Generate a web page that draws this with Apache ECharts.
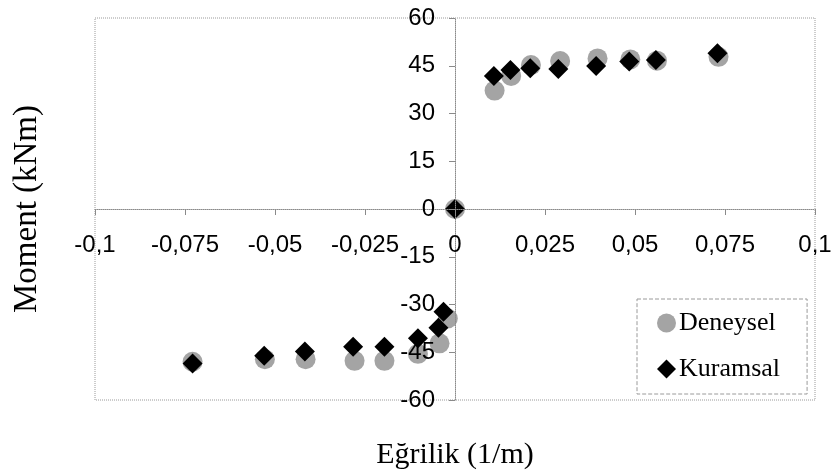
<!DOCTYPE html>
<html>
<head>
<meta charset="utf-8">
<script src="https://cdn.jsdelivr.net/npm/echarts@6/dist/echarts.min.js"></script>
<style>
  html, body { margin: 0; padding: 0; background: #fff; }
  #chart { width: 836px; height: 473px; }
</style>
</head>
<body>
<div id="chart"></div>
<script>
// Moment–curvature data (curvature in 1/m, moment in kNm)
const denCurvature = [-0.0729, -0.0528, -0.0415, -0.0279, -0.0196, -0.0103, -0.0043, -0.0020, 0,
                      0.0110, 0.0156, 0.0211, 0.0292, 0.0396, 0.0487, 0.0561, 0.0732];
const denMoment    = [-48.0, -47.2, -47.2, -47.7, -47.7, -45.5, -42.2, -34.4, 0,
                      37.2, 41.8, 45.2, 46.5, 47.3, 47.0, 46.6, 47.8];

const kurCurvature = [-0.0729, -0.0530, -0.0417, -0.0283, -0.0196, -0.0103, -0.0046, -0.0032, 0,
                      0.0108, 0.0154, 0.0209, 0.0287, 0.0392, 0.0484, 0.0558, 0.0729];
const kurMoment    = [-48.5, -46.1, -44.8, -43.3, -43.3, -40.6, -37.3, -32.3, 0,
                      41.8, 43.7, 44.2, 44.0, 44.9, 46.3, 46.8, 48.9];

const seriesNames = ['Deneysel', 'Kuramsal'];
const xTickLabels = ['-0,1', '-0,075', '-0,05', '-0,025', '0', '0,025', '0,05', '0,075', '0,1'];
const yTickLabels = ['-60', '-45', '-30', '-15', '0', '15', '30', '45', '60'];
const xTitle = 'Eğrilik (1/m)';
const yTitle = 'Moment (kNm)';

const pairs = (xs, ys) => xs.map((x, i) => [x, ys[i]]);

// plot box
const G = { left: 95, right: 21, top: 18, bottom: 73 };
const W = 836, H = 473;
const plotW = W - G.left - G.right;
const plotH = H - G.top - G.bottom;
// both axes cross at the origin, which sits at the middle of each symmetric range
const xAxisShift = -(plotH / 2);
const yAxisShift = -(plotW / 2);

const tickFont = { fontFamily: 'Liberation Sans, Arial, sans-serif', fontSize: 24, color: '#000' };
const serifFont = 'Liberation Serif, Times New Roman, serif';
const axisGray = '#8a8a8a';

const chart = echarts.init(document.getElementById('chart'), null, { renderer: 'canvas' });
chart.setOption({
  animation: false,
  backgroundColor: '#fff',
  grid: {
    left: G.left, right: G.right, top: G.top, bottom: G.bottom,
    containLabel: false,
    outerBoundsMode: 'none',
    show: true,
    borderColor: '#9a9a9a',
    borderWidth: 1,
    borderType: 'dotted'
  },
  xAxis: {
    type: 'value',
    position: 'bottom',
    offset: xAxisShift,
    z: 5,
    min: -0.1, max: 0.1, interval: 0.025,
    name: xTitle,
    nameLocation: 'middle',
    nameGap: 231,
    nameTextStyle: { fontFamily: serifFont, fontSize: 30, color: '#000' },
    axisLine: { onZero: false, lineStyle: { color: axisGray, width: 1, type: 'dotted' } },
    axisTick: { show: true, length: 6, inside: false, lineStyle: { color: axisGray } },
    splitLine: { show: false },
    axisLabel: Object.assign({
      margin: 24,
      showMinLabel: true, showMaxLabel: true,
      hideOverlap: false,
      formatter: v => xTickLabels[Math.round((v + 0.1) / 0.025)]
    }, tickFont)
  },
  yAxis: {
    type: 'value',
    position: 'left',
    offset: yAxisShift,
    z: 5,
    min: -60, max: 60, interval: 15,
    name: yTitle,
    nameLocation: 'middle',
    nameRotate: 90,
    nameGap: 411,
    nameTextStyle: { fontFamily: serifFont, fontSize: 33, color: '#000' },
    axisLine: { onZero: false, lineStyle: { color: axisGray, width: 1, type: 'dotted' } },
    axisTick: { show: true, length: 6, inside: false, lineStyle: { color: axisGray } },
    splitLine: { show: false },
    axisLabel: Object.assign({
      margin: 20,
      showMinLabel: true, showMaxLabel: true,
      hideOverlap: false,
      formatter: v => yTickLabels[Math.round((v + 60) / 15)]
    }, tickFont)
  },
  legend: {
    orient: 'vertical',
    left: 637, top: 299,
    padding: [11, 27, 12, 20],
    itemGap: 20,
    itemWidth: 19, itemHeight: 19,
    borderColor: '#9a9a9a',
    borderWidth: 1,
    borderType: 'dashed',
    backgroundColor: '#fff',
    textStyle: { fontFamily: serifFont, fontSize: 26, color: '#000', padding: [0, 0, 0, -2] },
    data: [
      { name: seriesNames[0], icon: 'circle' },
      { name: seriesNames[1], icon: 'diamond' }
    ]
  },
  series: [
    {
      name: seriesNames[0],
      type: 'scatter',
      symbol: 'circle',
      symbolSize: 20,
      itemStyle: { color: '#a4a4a4', opacity: 1 },
      data: pairs(denCurvature, denMoment),
      z: 2
    },
    {
      name: seriesNames[1],
      type: 'scatter',
      symbol: 'diamond',
      symbolSize: 20,
      itemStyle: { color: '#000', opacity: 1 },
      data: pairs(kurCurvature, kurMoment),
      z: 3
    }
  ]
});
</script>
</body>
</html>
